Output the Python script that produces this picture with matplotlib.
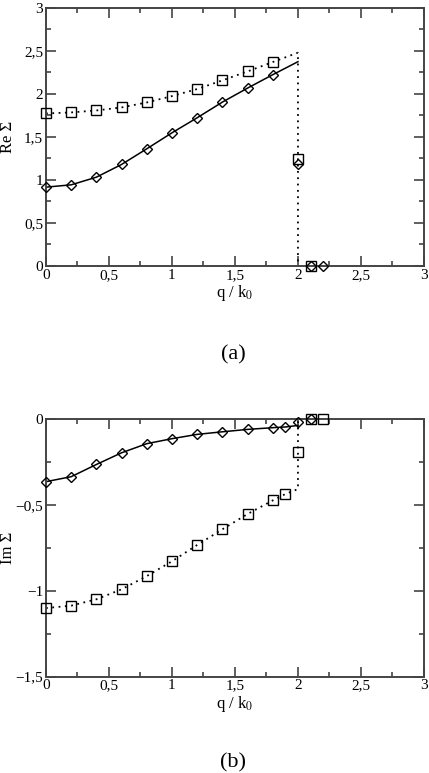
import matplotlib.pyplot as plt
from matplotlib.ticker import MultipleLocator, FuncFormatter

# panel (a): Re Sigma
re_x = [0, 0.2, 0.4, 0.6, 0.8, 1.0, 1.2, 1.4, 1.6, 1.8, 2.0, 2.1, 2.2]
re_diamond = [0.916, 0.943, 1.032, 1.18, 1.362, 1.548, 1.723, 1.905, 2.068, 2.224, 1.19, 0.0, 0.0]
re_sq_x = [0, 0.2, 0.4, 0.6, 0.8, 1.0, 1.2, 1.4, 1.6, 1.8, 2.0, 2.1]
re_square = [1.773, 1.785, 1.808, 1.843, 1.901, 1.975, 2.057, 2.158, 2.262, 2.371, 1.246, 0.0]

# curves (ending at q/k0 = 2)
re_line_x = [0, 0.2, 0.4, 0.6, 0.8, 1.0, 1.2, 1.4, 1.6, 1.8, 2.0]
re_solid = [0.916, 0.943, 1.032, 1.18, 1.362, 1.548, 1.723, 1.905, 2.068, 2.224, 2.375]
re_dot_x = [0, 0.2, 0.4, 0.6, 0.8, 1.0, 1.2, 1.4, 1.6, 1.8, 2.0, 2.0]
re_dotted = [1.773, 1.785, 1.808, 1.843, 1.901, 1.975, 2.057, 2.158, 2.262, 2.371, 2.48, 0.0]

# panel (b): Im Sigma
im_dia_x = [0, 0.2, 0.4, 0.6, 0.8, 1.0, 1.2, 1.4, 1.6, 1.8, 1.9, 2.0, 2.1]
im_diamond = [-0.366, -0.337, -0.266, -0.198, -0.145, -0.116, -0.091, -0.076, -0.062, -0.052, -0.048, -0.021, 0.0]
im_sq_x = [0, 0.2, 0.4, 0.6, 0.8, 1.0, 1.2, 1.4, 1.6, 1.8, 1.9, 2.0, 2.1, 2.2]
im_square = [-1.101, -1.087, -1.05, -0.992, -0.915, -0.829, -0.734, -0.643, -0.554, -0.475, -0.438, -0.196, 0.0, 0.0]

im_line_x = [0, 0.2, 0.4, 0.6, 0.8, 1.0, 1.2, 1.4, 1.6, 1.8, 1.9, 2.0]
im_solid = [-0.366, -0.337, -0.266, -0.198, -0.145, -0.116, -0.091, -0.076, -0.062, -0.052, -0.048, -0.039]
im_dot_x = [0, 0.2, 0.4, 0.6, 0.8, 1.0, 1.2, 1.4, 1.6, 1.8, 1.9, 2.0, 2.0]
im_dotted = [-1.101, -1.087, -1.05, -0.992, -0.915, -0.829, -0.734, -0.643, -0.554, -0.475, -0.438, -0.409, -0.01]

plt.rcParams["font.family"] = ["Liberation Serif", "DejaVu Serif"]
plt.rcParams["mathtext.fontset"] = "stix"


def comma(v, pos):
    s = f"{v:g}"
    return s.replace(".", ",").replace("-", "\u2212")


def style_axes(ax, ymin, ymax, ylabel):
    ax.set_xlim(0, 3)
    ax.set_ylim(ymin, ymax)
    ax.xaxis.set_major_locator(MultipleLocator(0.5))
    ax.xaxis.set_minor_locator(MultipleLocator(0.25))
    ax.yaxis.set_major_locator(MultipleLocator(0.5))
    ax.yaxis.set_minor_locator(MultipleLocator(0.25))
    ax.xaxis.set_major_formatter(FuncFormatter(comma))
    ax.yaxis.set_major_formatter(FuncFormatter(comma))
    ax.tick_params(which="both", direction="in", top=True, right=True,
                   labelsize=11, color="#444444", width=1.2, pad=2)
    ax.tick_params(which="major", length=7)
    ax.tick_params(which="minor", length=3.5)
    for sp in ax.spines.values():
        sp.set_linewidth(1.4)
        sp.set_color("#444444")
    ax.set_xlabel(r"q / k$_0$", fontsize=12, labelpad=1)
    ax.set_ylabel(ylabel, fontsize=12)
    ax.yaxis.set_label_coords(-0.079, 0.5)


fig = plt.figure(figsize=(4.29, 7.73), dpi=100)
ax1 = fig.add_axes([0.1072, 0.656, 0.881, 0.3337])
ax2 = fig.add_axes([0.1072, 0.1246, 0.881, 0.3337])

mk = dict(markerfacecolor="none", markeredgecolor="black", markeredgewidth=1.0,
          linestyle="none", clip_on=False, zorder=3)

ax1.plot(re_line_x, re_solid, color="black", lw=1.1)
ax1.plot(re_dot_x, re_dotted, color="black", lw=1.3, linestyle=(0, (1, 2.5)))
ax1.plot(re_x, re_diamond, marker="D", markersize=5.5, **mk)
ax1.plot(re_sq_x, re_square, marker="s", markersize=6.5, **mk)
style_axes(ax1, 0, 3, "Re \u03a3")

ax2.plot(im_line_x, im_solid, color="black", lw=1.1)
ax2.plot(im_dot_x, im_dotted, color="black", lw=1.3, linestyle=(0, (1, 2.5)))
ax2.plot(im_dia_x, im_diamond, marker="D", markersize=5.5, **mk)
ax2.plot(im_sq_x, im_square, marker="s", markersize=6.5, **mk)
style_axes(ax2, -1.5, 0, "Im \u03a3")

fig.text(0.543, 1 - 355 / 773, "(a)", fontsize=16, ha="center", va="center")
fig.text(0.543, 1 - 763 / 773, "(b)", fontsize=16, ha="center", va="center")

fig.savefig("out.png", dpi=100, facecolor="white")
